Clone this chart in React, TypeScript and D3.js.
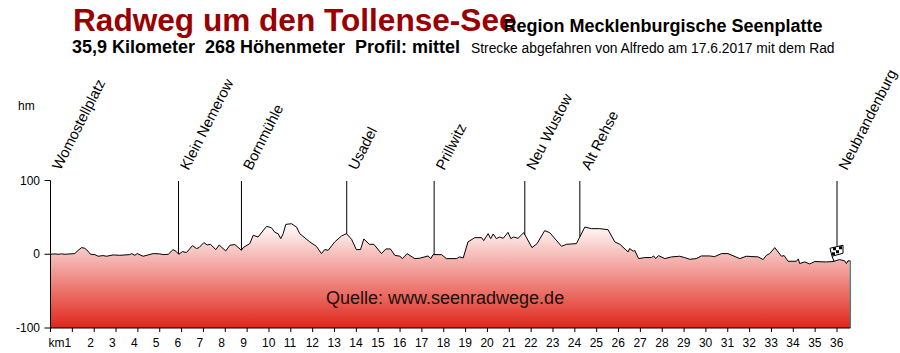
import React from "react";
import * as d3 from "d3";

const kmValues = [0,.2,.35,.5,.66,1.11,1.27,1.42,1.57,1.72,1.83,2.03,2.18,2.41,2.56,2.87,3.17,3.63,3.71,3.86,3.97,4.24,4.47,4.7,5,5.16,5.39,5.61,5.74,5.87,6.04,6.22,6.5,6.68,6.8,7.02,7.17,7.32,7.57,7.72,8.02,8.21,8.44,8.74,8.82,9.12,9.28,9.5,9.89,10.11,10.27,10.42,10.54,10.65,10.77,11.03,11.26,11.41,11.87,12.17,12.4,12.55,12.71,13.01,13.32,13.55,13.78,14,14.19,14.34,14.59,14.8,15.15,15.35,15.56,15.76,15.99,16.11,16.32,16.67,16.9,17.28,17.41,17.51,17.9,18.12,18.58,18.73,18.89,19.11,19.42,19.73,19.83,20.03,20.15,20.26,20.41,20.56,20.72,20.94,21.07,21.2,21.4,21.66,22.04,22.27,22.62,22.85,23.39,23.62,24.07,24.46,24.76,25.14,25.52,25.83,26.06,26.44,26.51,26.67,26.74,26.92,27.2,27.5,27.61,27.7,27.83,28.12,28.42,28.8,29.03,29.26,29.56,29.79,30.17,30.4,30.71,31.01,31.55,31.85,32.39,32.62,32.77,32.92,33.15,33.46,33.58,33.76,34.14,34.23,34.29,34.52,34.75,34.98,35.51,35.82,36.12,36.35,36.43,36.5,36.61];
const elevation = [0,.5,0,.5,0,.9,5.4,9,8.1,4.1,0,-.5,-2.7,-1.8,-2.7,-.9,-1.4,-.5,.9,-1.4,.9,-2.7,-.9,.9,.5,-.5,0,6.3,4.1,0,3.6,2.3,11.7,7.7,9,15.8,12.6,13.5,6.3,12.6,4.5,12.2,13.1,5.4,9,14.4,25.7,23.4,37.8,36,29.7,27.9,21.2,27.9,40.5,41.4,36.9,27.9,16.7,10.8,.9,6.3,5.4,16.7,24.8,27.9,20.3,6.3,6.3,20.7,13.5,13.5,.9,7.2,7.2,-1.4,-2.7,-5.9,.9,-5.9,-5.4,-2.3,-5.9,-.5,-.5,-5.9,-5.9,-3.6,-5,16.7,22.5,22.5,18.5,27.9,21.2,27.5,21.2,23.4,21.6,29.7,21.2,23.4,21.6,29.3,9,14.4,32,29.3,10.8,13.5,14.4,36.9,34.7,34.7,33.3,16.7,13.5,3.2,7.7,4.1,5.4,-5.9,-4.5,-4.5,-2.3,-5.9,-1.8,-5.9,-3.6,-2.7,-4.5,-6.8,-5.9,-2.3,-2.3,-3.2,.9,.9,-5.9,-2.7,-3.6,-7.2,-1.4,.9,9,-2.7,-1.8,-9.5,-9.5,-6.3,-12.6,-10.4,-13.1,-9.9,-10.4,-9.9,-7.2,-9,-12.6,-9,-9];

const poiNames = ["Womostellplatz","Klein Nemerow","Bornmühle","Usadel","Prillwitz","Neu Wustow","Alt Rehse","Neubrandenburg"];
const poiKm = [0,5.86,8.74,13.56,17.56,21.71,24.23,36];
const yTicks = [100,0,-100];
const kmTicks = d3.range(0,37);

const sans = "'Liberation Sans', Arial, sans-serif";

export default function App() {
  const x = d3.scaleLinear().domain([0,36]).range([50.5,837]);
  const y = d3.scaleLinear().domain([-100,100]).range([328,180.5]);
  const pts: [number,number][] = kmValues.map((k,i)=>[k,elevation[i]]);
  const line = d3.line<[number,number]>().x(d=>x(d[0])).y(d=>y(d[1]));
  const area = d3.area<[number,number]>().x(d=>x(d[0])).y0(y(-100)).y1(d=>y(d[1]));
  const endKm = kmValues[kmValues.length-1];
  const endEl = elevation[elevation.length-1];
  const elevAt = (k:number)=>{
    const i = d3.bisectLeft(kmValues,k);
    if(i<=0) return elevation[0];
    if(i>=kmValues.length) return endEl;
    const t=(k-kmValues[i-1])/(kmValues[i]-kmValues[i-1]);
    return elevation[i-1]+t*(elevation[i]-elevation[i-1]);
  };
  const fx = x(36), fy = y(0);
  return (
    <svg width={900} height={353} style={{position:"absolute",left:0,top:0,background:"#fff"}} fontFamily={sans}>
      <defs>
        <linearGradient id="fillGrad" gradientUnits="userSpaceOnUse" x1="0" x2="0" y1={y(42)} y2={y(-100)}>
          <stop offset="0" stopColor="#ffffff"/>
          <stop offset="1" stopColor="#e0261a"/>
        </linearGradient>
      </defs>
      <text x={73} y={31} fontSize={31.6} fontWeight="bold" fill="#990000">Radweg um den Tollense-See</text>
      <text x={503.5} y={32} fontSize={18} fontWeight="bold" fill="#000">Region Mecklenburgische Seenplatte</text>
      <text x={72} y={53} fontSize={18} fontWeight="bold" fill="#000" xmlSpace="preserve">35,9 Kilometer  268 Höhenmeter  Profil: mittel</text>
      <text x={471} y={53} fontSize={13.8} fill="#000">Strecke abgefahren von Alfredo am 17.6.2017 mit dem Rad</text>
      <text x={18} y={110} fontSize={12} fill="#000">hm</text>

      <path d={area(pts)!} fill="url(#fillGrad)"/>
      <line x1={x(endKm)} x2={x(endKm)} y1={y(endEl)} y2={y(-100)} stroke="#008080" strokeWidth={1}/>
      <path d={line(pts)!} fill="none" stroke="#000" strokeWidth={1}/>

      <line x1={50.5} x2={50.5} y1={y(100)} y2={y(-100)} stroke="#000"/>
      <line x1={50.5} x2={x(endKm)} y1={y(-100)} y2={y(-100)} stroke="#000"/>
      {yTicks.map(t=>(
        <g key={t}>
          <line x1={44.5} x2={50.5} y1={y(t)} y2={y(t)} stroke="#000"/>
          <text x={40} y={y(t)+4} textAnchor="end" fontSize={12} fill="#000">{t}</text>
        </g>
      ))}
      {kmTicks.map(k=>(
        <g key={k}>
          <line x1={x(k)} x2={x(k)} y1={y(-100)} y2={y(-100)+4} stroke="#000"/>
          {k>=2 && <text x={x(k)-7} y={347} fontSize={12} fill="#000">{k}</text>}
        </g>
      ))}
      <text x={48.5} y={347} fontSize={12} fill="#000">km1</text>

      {poiNames.map((n,i)=>{
        const px = x(poiKm[i]);
        const last = i===poiNames.length-1;
        return (
          <g key={n}>
            <line x1={px} x2={px} y1={181} y2={last?y(11):y(elevAt(poiKm[i]))} stroke="#000" strokeWidth={1}/>
            <text transform={`translate(${px+10},171) rotate(-63)`} fontSize={14.7} fill="#000">{n}</text>
          </g>
        );
      })}

      <g transform={`translate(${fx},${fy})`}>
        <path d="M-7,-6 L6,-9 L6,-1 L-5,2 Z" fill="#fff" stroke="#000" strokeWidth={1}/>
        <rect x={-4} y={-7} width={3} height={3} fill="#000"/>
        <rect x={2} y={-8} width={3} height={3} fill="#000"/>
        <rect x={-1} y={-4} width={3} height={3} fill="#000"/>
        <rect x={-5} y={-2} width={3} height={3} fill="#000"/>
        <line x1={-5} y1={2} x2={-3} y2={7} stroke="#000" strokeWidth={1}/>
      </g>

      <text x={326} y={304} fontSize={18} fill="#1a1010">Quelle: www.seenradwege.de</text>
    </svg>
  );
}
